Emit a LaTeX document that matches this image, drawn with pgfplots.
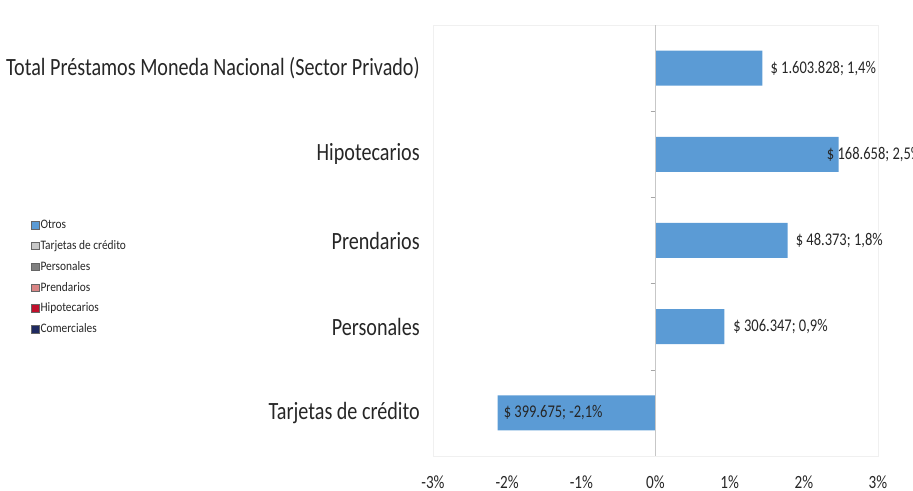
\documentclass[border=0pt]{standalone}
\usepackage{fontspec}
\setmainfont{Carlito}[FakeStretch=0.812]
\newfontfamily\legfontfam{Carlito}[FakeStretch=0.88]
\usepackage{pgfplots}
\usepackage{pgfplotstable}
\pgfplotsset{compat=1.18}
\definecolor{barblue}{HTML}{5B9BD5}
\definecolor{cOtros}{HTML}{5B9BD5}
\definecolor{cTarj}{HTML}{C8C8C8}
\definecolor{cPers}{HTML}{808080}
\definecolor{cPrend}{HTML}{D98585}
\definecolor{cHipo}{HTML}{C0102C}
\definecolor{cCom}{HTML}{1F2A60}
\definecolor{txt}{HTML}{262626}

\pgfplotstableread{
x y shift label
-2.13 0 4.5 {\$ 399.675; -2,1\%}
0.93 1 6.5 {\$ 306.347; 0,9\%}
1.78 2 6 {\$ 48.373; 1,8\%}
2.47 3 -9 {\$ 168.658; 2,5\%}
1.44 4 6 {\$ 1.603.828; 1,4\%}
}\bardata

\begin{document}
\begin{tikzpicture}
\path[use as bounding box] (0,0) rectangle (684.75pt,368.25pt);
\begin{axis}[
  at={(324.75pt,26.25pt)}, anchor=south west,
  scale only axis, width=333.75pt, height=323.25pt,
  xbar, bar width=26.25pt, bar shift=0pt,
  xmin=-3, xmax=3, ymin=-0.5, ymax=4.5,
  axis line style={draw=black!6},
  xtick={-3,...,3},
  xticklabels={-3\%,-2\%,-1\%,0\%,1\%,2\%,3\%},
  ytick={0,...,4},
  yticklabels={Tarjetas de crédito, Personales, Prendarios, Hipotecarios, Total Préstamos Moneda Nacional (Sector Privado)},
  major tick length=0pt,
  xticklabel style={font=\fontsize{14}{16}\selectfont, text=txt, anchor=center, inner sep=0pt, yshift=-19.5pt},
  yticklabel style={font=\fontsize{18.6}{20}\selectfont, text=txt, anchor=east, inner sep=0pt, xshift=-9.75pt},
  legend image code/.code={\draw[#1] (0pt,-2.8pt) rectangle (5.6pt,2.8pt);},
  legend cell align=left,
  legend style={at={(-0.9034,0.551)}, anchor=north west, draw=none, fill=none,
    font=\legfontfam\fontsize{9.7}{11}\selectfont, text=txt, inner sep=0pt, row sep=5.4pt,
    nodes={inner sep=1pt}},
]
\addplot[fill=barblue, draw=none, forget plot,
  nodes near coords, point meta=explicit symbolic,
  visualization depends on={\thisrow{shift} \as \labshift},
  every node near coord/.append style={anchor=west, inner sep=0pt, xshift=\labshift pt,
    font=\fontsize{13.4}{15}\selectfont, text=txt}]
  table[x=x, y=y, meta=label] {\bardata};
\addlegendimage{fill=cOtros, draw=black!60}
\addlegendentry{Otros}
\addlegendimage{fill=cTarj, draw=black!60}
\addlegendentry{Tarjetas de crédito}
\addlegendimage{fill=cPers, draw=black!60}
\addlegendentry{Personales}
\addlegendimage{fill=cPrend, draw=black!60}
\addlegendentry{Prendarios}
\addlegendimage{fill=cHipo, draw=black!60}
\addlegendentry{Hipotecarios}
\addlegendimage{fill=cCom, draw=black!60}
\addlegendentry{Comerciales}
\end{axis}
\begin{axis}[
  at={(324.75pt,26.25pt)}, anchor=south west,
  scale only axis, width=333.75pt, height=323.25pt,
  xmin=-3, xmax=3, ymin=-0.5, ymax=4.5,
  axis x line=none, axis y line=center,
  axis line style={draw=black!22, -},
  xtick=\empty,
  ytick={0.5,1.5,2.5,3.5}, yticklabels={},
  major tick length=3.75pt, tick align=outside,
  tick style={draw=black!35},
]
\end{axis}
\end{tikzpicture}
\end{document}
